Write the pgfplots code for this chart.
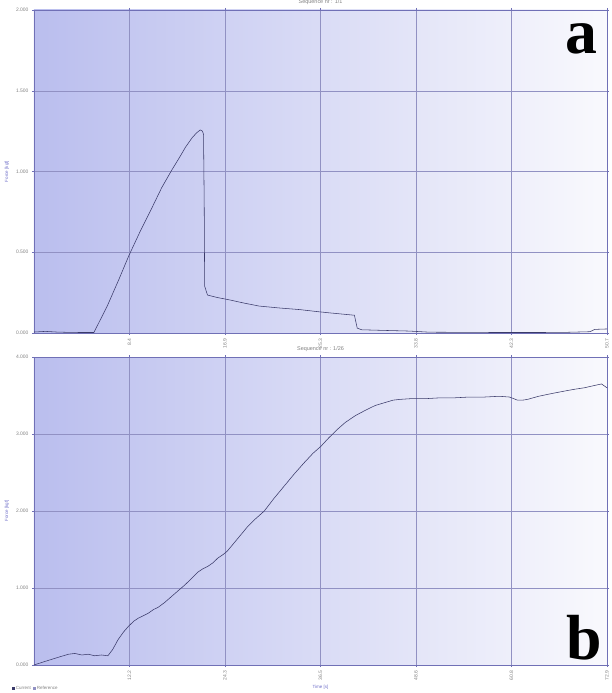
\documentclass[border=0pt]{standalone}
\usepackage{fontspec}
\setmainfont{Liberation Sans}
\newfontfamily\labelfont{Liberation Serif}
\usepackage{pgfplots}
\pgfplotsset{compat=1.18}

\definecolor{framec}{RGB}{112,112,182}
\definecolor{gridc}{RGB}{145,145,195}
\definecolor{curvec}{RGB}{58,58,105}
\definecolor{bgleft}{RGB}{186,190,238}
\definecolor{bgright}{RGB}{249,249,253}
\definecolor{labc}{RGB}{110,110,200}
\definecolor{tickc}{RGB}{130,130,130}

\pgfplotsset{
  panel/.style={
    scale only axis, width=573bp,
    anchor=north west,
    axis background/.style={left color=bgleft, right color=bgright},
    axis line style={framec, line width=0.8pt},
    grid=major,
    major grid style={gridc, line width=0.5pt},
    tick style={framec, line width=0.5pt},
    tick align=outside, major tick length=2bp,
    ymin=0, ymax=2, xmin=0,
    ticklabel style={font=\fontsize{5}{6}\selectfont, text=tickc},
    xticklabel style={rotate=90, anchor=east},
    ylabel={Force [kgf]},
    ylabel style={font=\fontsize{4.5}{5}\selectfont, text=labc},
    title style={font=\fontsize{5.5}{6}\selectfont, text=tickc, yshift=-4bp},
  },
  trace/.style={draw=curvec, line width=0.55pt, mark=none},
}

\begin{document}
\begin{tikzpicture}
\useasboundingbox (0,0) rectangle (612bp,-693bp);

% panel a
\begin{axis}[panel, at={(34bp,-10bp)}, height=323bp,
  title={Sequence nr : 1/1},
  xmax=50.7, ymin=0, ymax=2,
  xtick={8.45,16.9,25.35,33.8,42.25,50.7},
  xticklabels={8.4,16.9,25.3,33.8,42.3,50.7},
  ytick={0,0.5,1,1.5,2},
  yticklabels={0.000,0.500,1.000,1.500,2.000},
]
\addplot[trace] coordinates {
(0,0.006) (1.0,0.010) (2.0,0.006) (3.0,0.004) (4.2,0.003) (5.3,0.003)
(6.5,0.17) (7.5,0.33) (8.4,0.48) (9.4,0.63) (10.4,0.77) (11.3,0.90)
(12.2,1.01) (12.9,1.09) (13.4,1.15) (14.0,1.21) (14.4,1.24) (14.7,1.257)
(14.9,1.25) (15.0,1.23) (15.06,0.80) (15.1,0.29) (15.35,0.235)
(16.2,0.22) (17.3,0.205) (18.6,0.185) (19.9,0.167) (21.7,0.155)
(23.5,0.145) (25.0,0.133) (26.1,0.125) (27.3,0.117) (28.35,0.110)
(28.6,0.030) (29.0,0.020) (31.0,0.016) (33.2,0.012) (35.0,0.005)
(38.0,0.004) (41.0,0.003) (44.7,0.003) (47.0,0.004) (49.2,0.008)
(49.6,0.022) (50.2,0.024) (50.7,0.025)
};
\node[font=\labelfont\bfseries\fontsize{64}{64}\selectfont, text=black]
  at (rel axis cs:0.955,0.912) {a};
\end{axis}

% panel b
\begin{axis}[panel, at={(34bp,-357bp)}, height=308bp,
  title={Sequence nr : 1/26},
  xmax=72.9, ymin=0, ymax=4,
  xtick={12.15,24.3,36.45,48.6,60.75,72.9},
  xticklabels={12.2,24.3,36.5,48.6,60.8,72.9},
  ytick={0,1,2,3,4},
  yticklabels={0.000,1.000,2.000,3.000,4.000},
  xlabel={Time [s]},
  xlabel style={font=\fontsize{4.5}{5}\selectfont, text=labc, yshift=2bp},
]
\addplot[trace] coordinates {
(0,0.00) (1.2,0.04) (2.3,0.075) (3.4,0.11) (4.4,0.14) (5.2,0.15)
(6.1,0.13) (6.9,0.14) (7.7,0.12) (8.6,0.13) (9.4,0.12) (10.0,0.20)
(10.7,0.33) (11.4,0.43) (12.0,0.50) (12.7,0.57) (13.3,0.61) (13.9,0.64)
(14.5,0.67) (15.2,0.72) (15.8,0.75) (16.6,0.81) (17.5,0.89) (18.4,0.97)
(19.2,1.04) (20.1,1.13) (20.9,1.21) (21.5,1.25) (22.1,1.28) (22.8,1.33)
(23.4,1.39) (24.0,1.43) (24.6,1.48) (25.9,1.64) (27.2,1.80) (28.2,1.90)
(29.3,2.00) (30.5,2.16) (31.8,2.32) (33.1,2.48) (34.4,2.63) (35.5,2.75)
(36.5,2.84) (37.5,2.95) (38.6,3.06) (39.6,3.15) (40.9,3.24) (42.2,3.31)
(43.4,3.37) (44.7,3.41) (45.7,3.44) (46.6,3.45) (48.1,3.46) (50.0,3.46)
(51.7,3.47) (53.5,3.47) (55.4,3.48) (57.3,3.48) (59.2,3.49) (60.5,3.48)
(61.0,3.46) (61.5,3.44) (62.2,3.44) (62.8,3.45) (64.2,3.49) (65.6,3.52)
(67.1,3.55) (68.7,3.58) (70.0,3.60) (71.3,3.63) (72.2,3.65) (72.9,3.60)
};
\node[font=\labelfont\bfseries\fontsize{64}{64}\selectfont, text=black]
  at (rel axis cs:0.96,0.09) {b};
\end{axis}

% legend line under the panels
\node[anchor=west, font=\fontsize{4.5}{5}\selectfont, text=tickc, inner sep=0pt]
  at (12bp,-688bp)
  {\textcolor{curvec}{\rule{2.5bp}{2.5bp}} Current\enspace
   \textcolor{gridc}{\rule{2.5bp}{2.5bp}} Reference};
\end{tikzpicture}
\end{document}
